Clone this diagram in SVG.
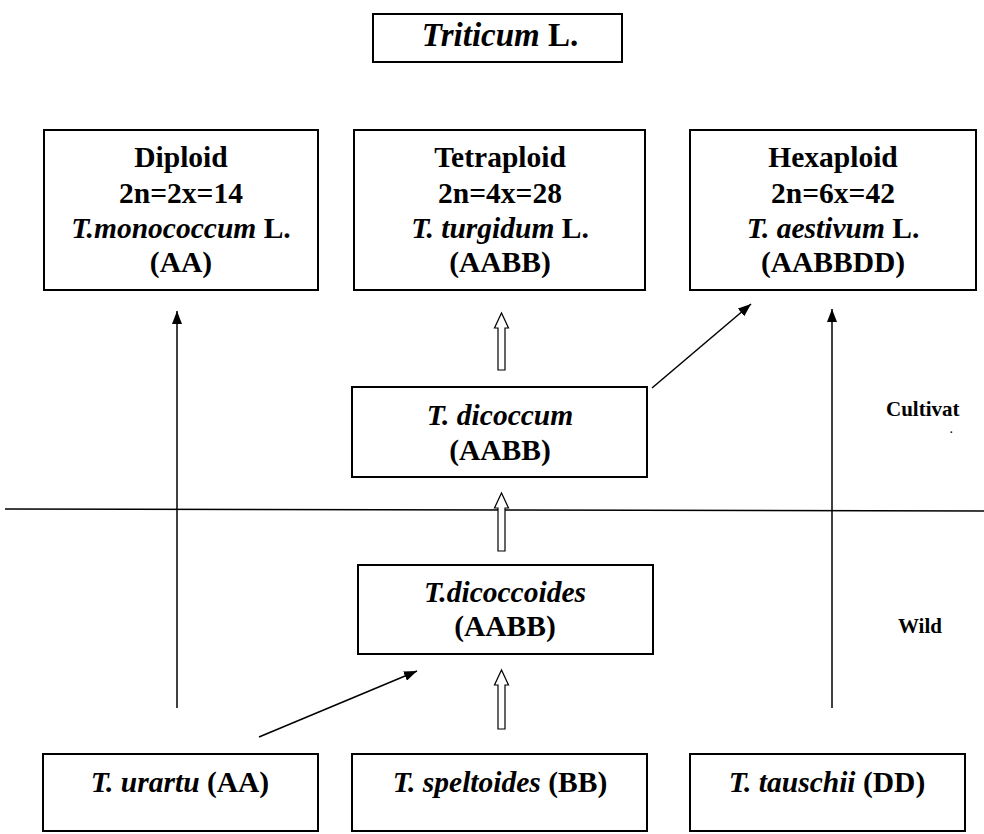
<svg xmlns="http://www.w3.org/2000/svg" width="984" height="834" viewBox="0 0 984 834" font-family="'Liberation Serif', 'DejaVu Serif', serif">
<style>
.box{fill:#fff;stroke:#000;stroke-width:2}
.t{font-family:'Liberation Serif','DejaVu Serif',serif;font-weight:bold;font-size:29.5px;fill:#000;text-anchor:middle}
.i{font-style:italic}
.lab{font-family:'Liberation Serif','DejaVu Serif',serif;font-weight:bold;font-size:21px;fill:#000}
.ln{stroke:#000;stroke-width:1.5;fill:none}
.ha{fill:#fff;stroke:#000;stroke-width:1.2}
</style>
<defs>
<marker id="ah" markerUnits="userSpaceOnUse" markerWidth="14" markerHeight="10" refX="13" refY="5" orient="auto">
<path d="M0,0 L13,5 L0,10 z" fill="#000"/>
</marker>
</defs>
<rect width="984" height="834" fill="#fff"/>

<g id="title">
<rect class="box" x="373" y="14" width="249" height="48"/>
<text class="t" x="500" y="46" style="font-size:33px"><tspan class="i">Triticum</tspan> L.</text>
</g>

<g id="diploid">
<rect class="box" x="44" y="130" width="274" height="160"/>
<text class="t" x="181" y="167">Diploid</text>
<text class="t" x="181" y="203">2n=2x=14</text>
<text class="t" x="181" y="238"><tspan class="i">T.monococcum</tspan> L.</text>
<text class="t" x="181" y="272">(AA)</text>
</g>

<g id="tetraploid">
<rect class="box" x="354" y="130" width="291" height="160"/>
<text class="t" x="500" y="167">Tetraploid</text>
<text class="t" x="500" y="203">2n=4x=28</text>
<text class="t" x="500" y="238"><tspan class="i">T. turgidum</tspan> L.</text>
<text class="t" x="500" y="272">(AABB)</text>
</g>

<g id="hexaploid">
<rect class="box" x="690" y="130" width="286" height="160"/>
<text class="t" x="833" y="167">Hexaploid</text>
<text class="t" x="833" y="203">2n=6x=42</text>
<text class="t" x="833" y="238"><tspan class="i">T. aestivum</tspan> L.</text>
<text class="t" x="833" y="272">(AABBDD)</text>
</g>

<g id="dicoccum">
<rect class="box" x="352" y="387" width="295" height="90"/>
<text class="t i" x="500" y="425">T. dicoccum</text>
<text class="t" x="500" y="460">(AABB)</text>
</g>

<g id="dicoccoides">
<rect class="box" x="358" y="565" width="295" height="89"/>
<text class="t i" x="505" y="602">T.dicoccoides</text>
<text class="t" x="505" y="636">(AABB)</text>
</g>

<g id="urartu">
<rect class="box" x="43" y="754" width="275" height="77"/>
<text class="t" x="180" y="792"><tspan class="i">T. urartu</tspan> (AA)</text>
</g>

<g id="speltoides">
<rect class="box" x="352" y="754" width="295" height="77"/>
<text class="t" x="500" y="792"><tspan class="i">T. speltoides</tspan> (BB)</text>
</g>

<g id="tauschii">
<rect class="box" x="690" y="754" width="275" height="77"/>
<text class="t" x="827" y="792"><tspan class="i">T. tauschii</tspan> (DD)</text>
</g>

<g id="labels">
<text class="lab" x="886" y="416">Cultivat</text>
<text style="font-weight:bold;font-size:10px" x="950" y="433">.</text>
<text class="lab" x="898" y="633">Wild</text>
</g>

<g id="connectors">
<line class="ln" x1="5" y1="509" x2="984" y2="511"/>
<line class="ln" x1="177" y1="708" x2="177" y2="311" marker-end="url(#ah)"/>
<line class="ln" x1="832" y1="708" x2="832" y2="309" marker-end="url(#ah)"/>
<line class="ln" x1="259" y1="737" x2="417" y2="671" marker-end="url(#ah)"/>
<line class="ln" x1="652" y1="388" x2="751" y2="304" marker-end="url(#ah)"/>
<polygon class="ha" points="498,370 498,328 494.5,328 501.5,313 508.5,328 505,328 505,370"/>
<polygon class="ha" points="498,551 498,508 494.5,508 501.5,493 508.5,508 505,508 505,551"/>
<polygon class="ha" points="498,729 498,685 494.5,685 501.5,670 508.5,685 505,685 505,729"/>
</g>
</svg>
